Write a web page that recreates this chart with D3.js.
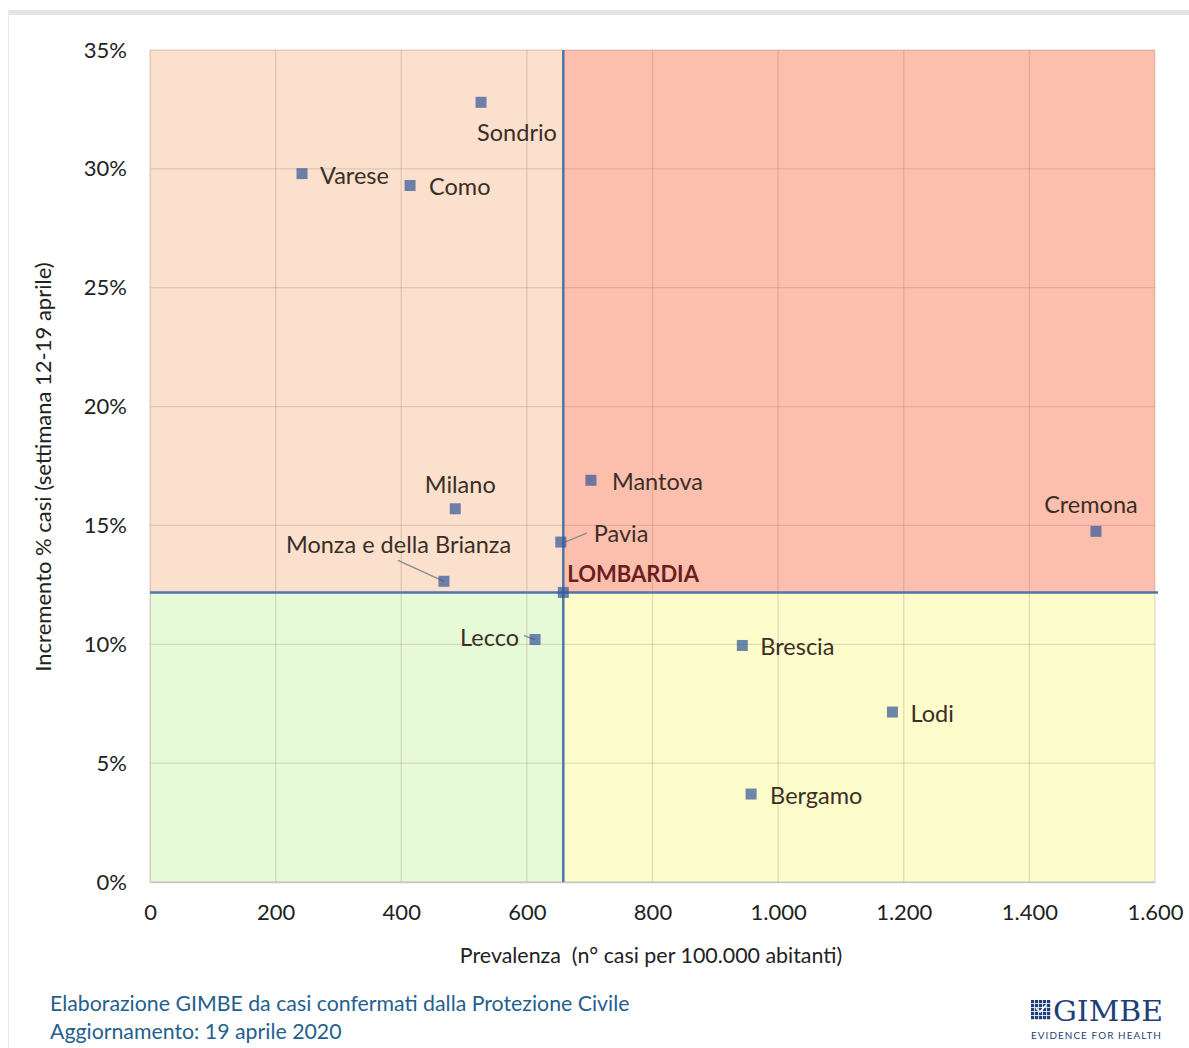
<!DOCTYPE html>
<html><head><meta charset="utf-8">
<script src="https://cdn.jsdelivr.net/npm/d3@7"></script>
<style>
html,body{margin:0;padding:0;background:#fff;}
svg{display:block;font-family:Lato,"Open Sans",sans-serif;}
</style></head>
<body><svg id="c" width="1189" height="1048"></svg>
<script>
// ---- data ----
const provinces = ["Sondrio","Varese","Como","Milano","Monza e della Brianza","Pavia","Mantova","Lecco","Brescia","Lodi","Bergamo","Cremona"];
const prevalenza = [527, 242, 414, 486, 468, 654, 702, 613, 943, 1182, 957, 1506];
const incremento = [32.8, 29.8, 29.3, 15.7, 12.65, 14.3, 16.9, 10.2, 9.95, 7.15, 3.7, 14.75];
const regionName = "LOMBARDIA";
const regionPrevalenza = 658;
const regionIncremento = 12.18;
const xTicks = [0,200,400,600,800,1000,1200,1400,1600];
const xTickLabels = ["0","200","400","600","800","1.000","1.200","1.400","1.600"];
const yTicks = [0,5,10,15,20,25,30,35];
const yTickLabels = ["0%","5%","10%","15%","20%","25%","30%","35%"];

// label placement (styling only)
const labelPlace = {
  "Sondrio": {dx: 36, dy: 30, anchor: "middle"},
  "Varese": {dx: 18, dy: 1, anchor: "start"},
  "Como": {dx: 19, dy: 1, anchor: "start"},
  "Milano": {dx: 5, dy: -25, anchor: "middle"},
  "Monza e della Brianza": {dx: -158, dy: -37, anchor: "start", leader: [[-46,-21],[0,0]]},
  "Pavia": {dx: 33, dy: -9, anchor: "start", leader: [[4,0],[26,-9]]},
  "Mantova": {dx: 21, dy: 1, anchor: "start"},
  "Lecco": {dx: -16, dy: -3, anchor: "end", leader: [[-11,-4],[0,0]]},
  "Brescia": {dx: 18, dy: 1, anchor: "start"},
  "Lodi": {dx: 18, dy: 1, anchor: "start"},
  "Bergamo": {dx: 19, dy: 1, anchor: "start"},
  "Cremona": {dx: -5, dy: -27, anchor: "middle"}
};

const svg = d3.select("#c");
const x = d3.scaleLinear().domain([0,1600]).range([150,1155]);
const y = d3.scaleLinear().domain([0,35]).range([882,50]);

// outer frame
svg.append("rect").attr("x",8).attr("y",10).attr("width",1181).attr("height",5).attr("fill","#e4e4e4");
svg.append("line").attr("x1",8.5).attr("x2",8.5).attr("y1",12).attr("y2",1048).attr("stroke","#e8e8e8").attr("stroke-width",1);

// quadrants
const cx = x(regionPrevalenza), cy = y(regionIncremento);
const quads = [
  {x0: x(0), x1: cx, y0: y(35), y1: cy, fill: "#fae0cd"},
  {x0: cx, x1: x(1600), y0: y(35), y1: cy, fill: "#fcbfae"},
  {x0: x(0), x1: cx, y0: cy, y1: y(0), fill: "#e6fad7"},
  {x0: cx, x1: x(1600), y0: cy, y1: y(0), fill: "#fdfccb"}
];
svg.append("g").selectAll("rect").data(quads).join("rect")
  .attr("x", d=>d.x0).attr("y", d=>d.y0).attr("width", d=>d.x1-d.x0).attr("height", d=>d.y1-d.y0)
  .attr("fill", d=>d.fill);

// grid
const grid = svg.append("g").attr("stroke","rgba(130,110,80,0.22)").attr("stroke-width",1.3);
grid.selectAll("line.v").data(xTicks).join("line").attr("class","v")
  .attr("x1", d=>x(d)).attr("x2", d=>x(d)).attr("y1", y(35)).attr("y2", y(0));
grid.selectAll("line.h").data(yTicks).join("line").attr("class","h")
  .attr("x1", x(0)).attr("x2", x(1600)).attr("y1", d=>y(d)).attr("y2", d=>y(d));

// axes
const xAxis = d3.axisBottom(x).tickValues(xTicks).tickFormat((d,i)=>xTickLabels[i]).tickSize(0).tickPadding(22);
const gx = svg.append("g").attr("transform",`translate(0,${y(0)})`).call(xAxis);
gx.select(".domain").attr("stroke","#c8c8c8").attr("stroke-width",1.5);
gx.selectAll("text").attr("font-size",22).attr("fill","#222").attr("font-family","Lato,'Open Sans',sans-serif");

const yAxis = d3.axisLeft(y).tickValues(yTicks).tickFormat((d,i)=>yTickLabels[i]).tickSize(0).tickPadding(23);
const gy = svg.append("g").attr("transform",`translate(${x(0)},0)`).call(yAxis);
gy.select(".domain").attr("stroke","#d9c8b8").attr("stroke-width",1);
gy.selectAll("text").attr("font-size",22).attr("fill","#222").attr("font-family","Lato,'Open Sans',sans-serif");

// axis titles
svg.append("text").attr("x", 651).attr("y", 963).attr("text-anchor","middle")
  .attr("font-size",21.4).attr("fill","#222").attr("xml:space","preserve")
  .text("Prevalenza  (n° casi per 100.000 abitanti)");
svg.append("text").attr("transform","translate(51,467) rotate(-90)").attr("text-anchor","middle")
  .attr("font-size",22).attr("fill","#222")
  .text("Incremento % casi (settimana 12-19 aprile)");

// blue reference lines
svg.append("line").attr("x1", x(0)).attr("x2", x(1600)+3).attr("y1", cy).attr("y2", cy)
  .attr("stroke","#4f74a8").attr("stroke-width",2.5);
svg.append("line").attr("x1", cx).attr("x2", cx).attr("y1", y(35)).attr("y2", y(0))
  .attr("stroke","#4f74a8").attr("stroke-width",2.5);

// data
const pts = provinces.map((p,i)=>({name:p, px: prevalenza[i], py: incremento[i]}));

// leader lines
svg.append("g").selectAll("polyline").data(pts.filter(d=>labelPlace[d.name].leader)).join("polyline")
  .attr("points", d=>labelPlace[d.name].leader.map(q=>[x(d.px)+q[0], y(d.py)+q[1]].join(",")).join(" "))
  .attr("fill","none").attr("stroke","#8a8a8a").attr("stroke-width",1.3);

// markers
const ms = 11;
svg.append("g").selectAll("rect").data(pts).join("rect")
  .attr("x", d=>x(d.px)-ms/2).attr("y", d=>y(d.py)-ms/2).attr("width", ms).attr("height", ms)
  .attr("fill","#36589a").attr("fill-opacity",0.72);
svg.append("rect").attr("x", cx-ms/2).attr("y", cy-ms/2).attr("width", ms).attr("height", ms)
  .attr("fill","#36589a").attr("fill-opacity",0.72);

// labels
svg.append("g").selectAll("text").data(pts).join("text")
  .attr("x", d=>x(d.px)+labelPlace[d.name].dx).attr("y", d=>y(d.py)+labelPlace[d.name].dy)
  .attr("dominant-baseline","central").attr("text-anchor", d=>labelPlace[d.name].anchor)
  .attr("font-size",23.5).attr("fill","#3b2e26").text(d=>d.name);
svg.append("text").attr("x", cx+4).attr("y", cy-19).attr("dominant-baseline","central")
  .attr("font-size",22).attr("font-weight","bold").attr("fill","#6a1e1e").text(regionName);

// footer
svg.append("text").attr("x",50).attr("y",1011).attr("font-size",21.3).attr("fill","#245f8e")
  .text("Elaborazione GIMBE da casi confermati dalla Protezione Civile");
svg.append("text").attr("x",50).attr("y",1039).attr("font-size",21.3).attr("fill","#245f8e")
  .text("Aggiornamento: 19 aprile 2020");

// logo
const logo = svg.append("g");
const icon = logo.append("g").attr("transform","translate(1031,1000)");
for (let r=0;r<5;r++) for (let c=0;c<5;c++) {
  icon.append("rect").attr("x",c*4).attr("y",r*4).attr("width",3.2).attr("height",3.2).attr("fill","#1f3f78");
}
icon.append("path").attr("d","M5 8 L9 12 L15 5").attr("stroke","#fff").attr("stroke-width",1.6).attr("fill","none");
logo.append("text").attr("x",1053).attr("y",1021).attr("font-family","'DejaVu Serif','Liberation Serif',serif")
  .attr("font-size",28).attr("fill","#1f3f78").attr("textLength",110).attr("lengthAdjust","spacingAndGlyphs").text("GIMBE");
logo.append("text").attr("x",1031).attr("y",1039).attr("font-size",9).attr("fill","#1f3f78")
  .attr("textLength",131).attr("lengthAdjust","spacingAndGlyphs").attr("letter-spacing",1).text("EVIDENCE FOR HEALTH");
</script></body></html>
